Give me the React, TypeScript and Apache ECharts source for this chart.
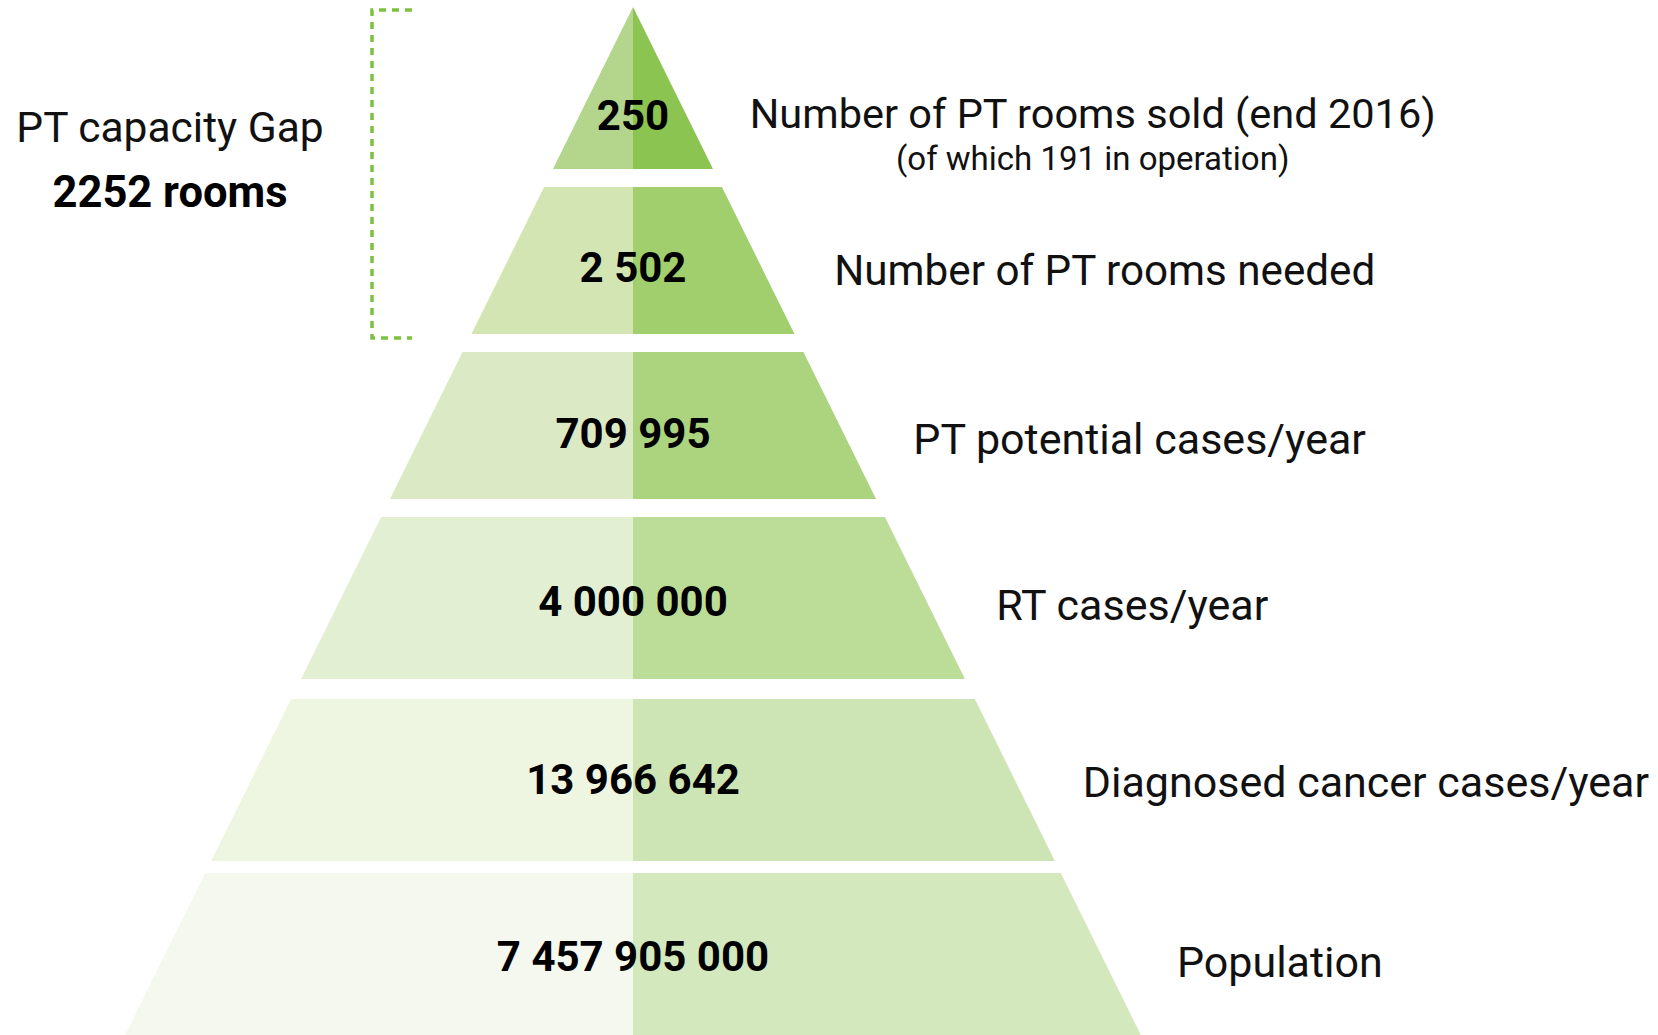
import React, { useEffect, useRef } from "react";
import * as echarts from "echarts";

// ---------- data ----------
const tierNames = [
  "Number of PT rooms sold (end 2016)",
  "Number of PT rooms needed",
  "PT potential cases/year",
  "RT cases/year",
  "Diagnosed cancer cases/year",
  "Population",
];
const tierValues = [250, 2502, 709995, 4000000, 13966642, 7457905000];
const roomsInOperation = 191;
const gapTitle = "PT capacity Gap";
const gapTiers = [0, 1]; // the bracket spans sold -> needed

// ---------- layout (depth units = pixels below the apex) ----------
const TIER_TOP = [0, 180, 345, 510, 692, 866];
const TIER_BOTTOM = [162, 327, 492, 672, 854, 1028];
const SLOPE = 0.494; // half-width per unit of depth
const LABEL_GAP = 72;
const LABEL_DX = [-8, -1, -5, -4, -5, 0];
const LABEL_DY = [0, 3, 9, 3, -1, 6];
const LABEL_SIZE = [41.5, 42.2, 43, 43, 43, 43];
const VALUE_DY = [0, 0, 4, 0, -3, 0];
const BRACKET_X = -261;
const BRACKET_TICK = 40;
const GAP_TEXT_X = -463;

// ---------- style ----------
const LEFT_COLORS = ["#b4d68c", "#d4e5b4", "#dbeac5", "#e3efd3", "#eef5e1", "#f4f8ee"];
const RIGHT_COLORS = ["#8bc451", "#a2cf6e", "#acd47f", "#bcdd97", "#cde5b4", "#d3e8bd"];
const GREEN = "#7cc242";
const FONT = "Roboto, 'Noto Sans', sans-serif";
const INK = "#111111";

const fmt = (v: number) => String(Math.round(v)).replace(/\B(?=(\d{3})+(?!\d))/g, " ");

function centroidDepth(top: number, bottom: number) {
  const a = top * SLOPE;
  const b = bottom * SLOPE;
  const h = bottom - top;
  if (a + b === 0) return top + h / 2;
  return top + (h * (a + 2 * b)) / (3 * (a + b));
}

export default function App() {
  const ref = useRef<HTMLDivElement>(null);

  useEffect(() => {
    if (!ref.current) return;
    const chart = echarts.init(ref.current, undefined, { renderer: "svg" });

    const tierData = tierValues.map((v, i) => [i, TIER_TOP[i], TIER_BOTTOM[i], v]);
    const gapRooms = tierValues[gapTiers[1]] - tierValues[gapTiers[0]];

    const option: any = {
      animation: false,
      backgroundColor: "#ffffff",
      grid: { left: 0, right: 0, top: 7, bottom: 0 },
      xAxis: { type: "value", min: -633, max: 1025, show: false },
      yAxis: { type: "value", min: 0, max: 1028, inverse: true, show: false },
      series: [
        {
          type: "custom",
          name: "pyramid",
          coordinateSystem: "cartesian2d",
          dimensions: ["idx", "top", "bottom", "value"],
          encode: { x: 0, y: [1, 2] },
          data: tierData,
          renderItem: (params: any, api: any) => {
            const i = api.value(0) as number;
            const top = api.value(1) as number;
            const bottom = api.value(2) as number;
            const value = api.value(3) as number;
            const cTop = api.coord([0, top]);
            const cBot = api.coord([0, bottom]);
            const tl = api.coord([-top * SLOPE, top]);
            const tr = api.coord([top * SLOPE, top]);
            const bl = api.coord([-bottom * SLOPE, bottom]);
            const br = api.coord([bottom * SLOPE, bottom]);
            const cy = centroidDepth(top, bottom);
            const pVal = api.coord([0, cy + VALUE_DY[i]]);
            const children: any[] = [
              {
                type: "polygon",
                shape: { points: [cTop, tl, bl, cBot] },
                style: { fill: LEFT_COLORS[i] },
              },
              {
                type: "polygon",
                shape: { points: [cTop, tr, br, cBot] },
                style: { fill: RIGHT_COLORS[i] },
              },
              {
                type: "text",
                x: pVal[0],
                y: pVal[1],
                style: {
                  text: fmt(value),
                  fill: "#000",
                  fontSize: 42,
                  fontWeight: "bold",
                  fontFamily: FONT,
                  align: "center",
                  verticalAlign: "middle",
                },
              },
            ];
            const d = cy + LABEL_DY[i] - (i === 0 ? 2 : 0);
            const p = api.coord([d * SLOPE + LABEL_GAP + LABEL_DX[i], d]);
            if (i === 0) {
              children.push({
                type: "text",
                x: p[0],
                y: p[1] - 24,
                style: {
                  text: `{a|${tierNames[i]}}\n{b|(of which ${roomsInOperation} in operation)}`,
                  align: "left",
                  verticalAlign: "top",
                  rich: {
                    a: { fontSize: LABEL_SIZE[i], lineHeight: 48, fontFamily: FONT, fill: INK, align: "center" },
                    b: { fontSize: 33, lineHeight: 42, fontFamily: FONT, fill: INK, align: "center" },
                  },
                },
              });
            } else {
              children.push({
                type: "text",
                x: p[0],
                y: p[1],
                style: {
                  text: tierNames[i],
                  fill: INK,
                  fontSize: LABEL_SIZE[i],
                  fontFamily: FONT,
                  align: "left",
                  verticalAlign: "middle",
                },
              });
            }
            return { type: "group", children };
          },
          z: 2,
        },
        {
          type: "custom",
          name: "gap",
          coordinateSystem: "cartesian2d",
          dimensions: ["from", "to"],
          encode: { x: 0, y: 1 },
          data: [gapTiers],
          renderItem: (params: any, api: any) => {
            const from = api.value(0) as number;
            const to = api.value(1) as number;
            const top = TIER_TOP[from] + 3;
            const bottom = TIER_BOTTOM[to] + 4;
            const mid = (top + bottom) / 2;
            const pts = [
              api.coord([BRACKET_X + BRACKET_TICK, top]),
              api.coord([BRACKET_X, top]),
              api.coord([BRACKET_X, bottom]),
              api.coord([BRACKET_X + BRACKET_TICK, bottom]),
            ];
            const pTitle = api.coord([GAP_TEXT_X, mid - 47]);
            const pValue = api.coord([GAP_TEXT_X, mid + 18]);
            return {
              type: "group",
              children: [
                {
                  type: "polyline",
                  shape: { points: pts },
                  style: { stroke: GREEN, lineWidth: 3.5, lineDash: [7, 6], fill: null },
                },
                {
                  type: "text",
                  x: pTitle[0],
                  y: pTitle[1],
                  style: {
                    text: gapTitle,
                    fill: INK,
                    fontSize: 42.5,
                    fontFamily: FONT,
                    align: "center",
                    verticalAlign: "middle",
                  },
                },
                {
                  type: "text",
                  x: pValue[0],
                  y: pValue[1],
                  style: {
                    text: `${gapRooms} rooms`,
                    fill: "#000",
                    fontSize: 43.5,
                    fontWeight: "bold",
                    fontFamily: FONT,
                    align: "center",
                    verticalAlign: "middle",
                  },
                },
              ],
            };
          },
          z: 3,
        },
      ],
    };

    chart.setOption(option);
    return () => chart.dispose();
  }, []);

  return (
    <div
      ref={ref}
      style={{ position: "absolute", left: 0, top: 0, width: 1658, height: 1035, background: "#fff" }}
    />
  );
}
